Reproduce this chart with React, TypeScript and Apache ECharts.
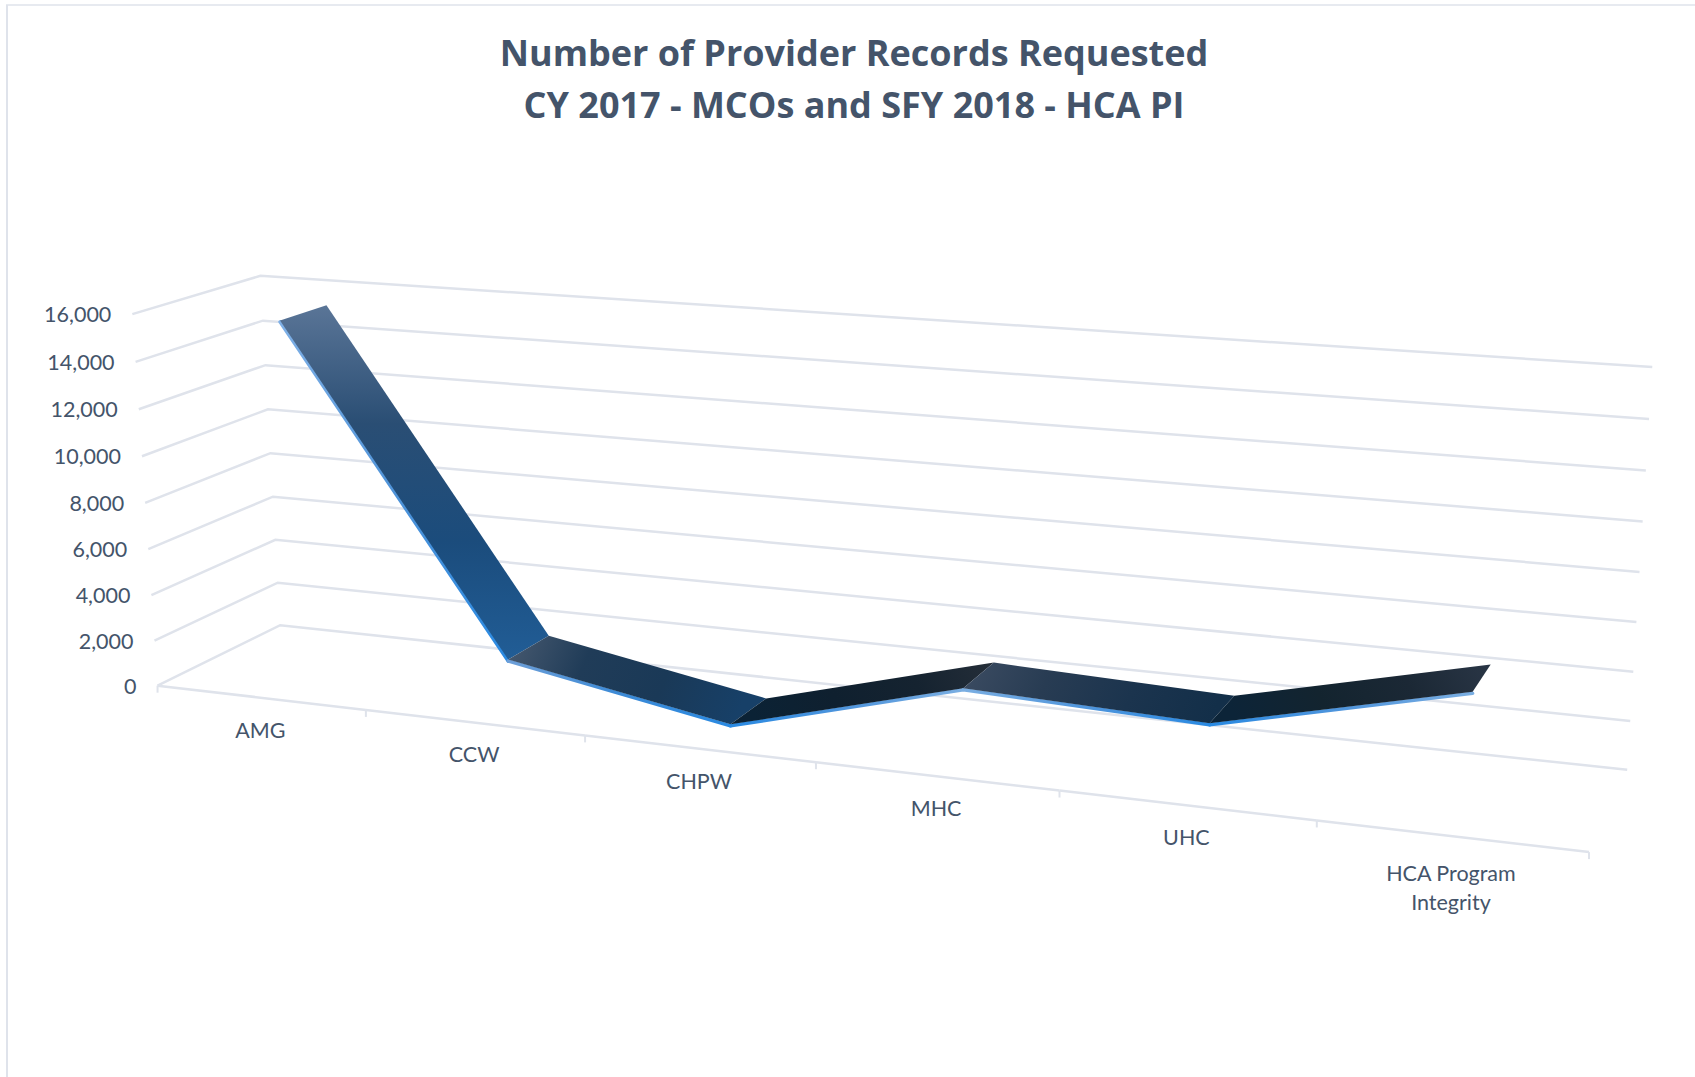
import React, { useEffect, useRef } from "react";
import * as echarts from "echarts";

const categories = ["AMG", "CCW", "CHPW", "MHC", "UHC", "HCA Program\nIntegrity"];
const recordsRequested = [15500, 1800, 60, 2650, 2300, 4620];
const yTicks = [0, 2000, 4000, 6000, 8000, 10000, 12000, 14000, 16000];
const titleLines = ["Number of Provider Records Requested", "CY 2017 - MCOs and SFY 2018 - HCA PI"];

const INK = "#44546a";
const GRID = "#dfe3eb";
const FONT = 'Lato, "Open Sans", sans-serif';
const TITLE_FONT = '"Open Sans", sans-serif';

// Camera: frame corners (u across, v up, z into the page) -> screen pixels, fitted by least squares.
const frame: number[][] = [
  [0, 0, 0, 158, 686], [1, 0, 0, 1589, 852], [0, 0, 1, 280, 625], [1, 0, 1, 1627, 770],
  [0, 1, 0, 132, 314], [0, 1, 1, 261, 276], [1, 1, 1, 1652, 367],
  [0.5, 0, 0, 816, 762], [0, 0.5, 0, 145, 503], [0, 0.5, 1, 270, 453], [1, 0.5, 1, 1640, 572],
];
function solveCamera(): number[] {
  const rows: number[][] = [];
  const rhs: number[] = [];
  for (const [u, v, z, px, py] of frame) {
    const x = px / 1000, y = py / 1000;
    rows.push([u, v, z, 1, 0, 0, 0, 0, -x * u, -x * v, -x * z]); rhs.push(x);
    rows.push([0, 0, 0, 0, u, v, z, 1, -y * u, -y * v, -y * z]); rhs.push(y);
  }
  const n = 11;
  const m: number[][] = [];
  for (let i = 0; i < n; i++) {
    const r: number[] = [];
    for (let j = 0; j < n; j++) r.push(rows.reduce((s, row) => s + row[i] * row[j], 0));
    r.push(rows.reduce((s, row, k) => s + row[i] * rhs[k], 0));
    m.push(r);
  }
  for (let c = 0; c < n; c++) {
    let p = c;
    for (let r = c + 1; r < n; r++) if (Math.abs(m[r][c]) > Math.abs(m[p][c])) p = r;
    [m[c], m[p]] = [m[p], m[c]];
    for (let r = 0; r < n; r++) {
      if (r === c) continue;
      const f = m[r][c] / m[c][c];
      for (let k = c; k <= n; k++) m[r][k] -= f * m[c][k];
    }
  }
  return m.map((r, i) => r[n] / r[i]);
}
const cam = solveCamera();
function project(u: number, v: number, z: number): number[] {
  const w = cam[8] * u + cam[9] * v + cam[10] * z + 1;
  return [
    (1000 * (cam[0] * u + cam[1] * v + cam[2] * z + cam[3])) / w,
    (1000 * (cam[4] * u + cam[5] * v + cam[6] * z + cam[7])) / w,
  ];
}

// axis coordinates -> unit cube via the hidden grid
function unit(api: any, params: any, catIndex: number, value: number): number[] {
  const p = api.coord([catIndex, value]);
  const r = params.coordSys;
  return [(p[0] - r.x) / r.width, 1 - (p[1] - r.y) / r.height];
}

const Z_FRONT = 0.32;
const Z_BACK = 0.7;

const lg = (x2: number, y2: number, stops: string[]) =>
  new echarts.graphic.LinearGradient(0, 0, x2, y2, stops.map((color, i) => ({ offset: i / (stops.length - 1), color })));

const faceShades = [
  [0, 1, ["#5a7597", "#2a4e74", "#1b4c7c", "#215d96"]],
  [1, 0.15, ["#485a70", "#203c58", "#1a3957", "#174068"]],
  [1, -0.1, ["#0b2235", "#0f202f", "#152330", "#252e39"]],
  [1, 0.1, ["#3c4c62", "#283c53", "#1b344e", "#132f49"]],
  [1, -0.1, ["#0c2438", "#13242f", "#1b2835", "#2a3646"]],
] as [number, number, string[]][];
const edgeShades = [
  [0, 1, ["#7fb0e6", "#4f93d8", "#2a8ae2"]],
  [1, 0, ["#6d9fd8", "#3c8ad6", "#2a8ae2"]],
  [1, 0, ["#2a8ae2", "#4f95dc", "#7aaee2"]],
  [1, 0, ["#7aaee2", "#4f95dc", "#2a8ae2"]],
  [1, 0, ["#2a8ae2", "#4f95dc", "#7aaee2"]],
] as [number, number, string[]][];

export default function App() {
  const ref = useRef<HTMLDivElement>(null);
  useEffect(() => {
    const chart = echarts.init(ref.current!, undefined, { renderer: "svg" });
    chart.setOption({
      animation: false,
      backgroundColor: "#ffffff",
      title: {
        text: titleLines.join("\n"),
        left: 849,
        top: 21,
        textAlign: "center",
        textStyle: { color: INK, fontFamily: TITLE_FONT, fontSize: 36, fontWeight: "bold", lineHeight: 52 },
      },
      graphic: [
        { type: "line", shape: { x1: 6, y1: 5, x2: 1695, y2: 5 }, style: { stroke: GRID, lineWidth: 1.5 } },
        { type: "line", shape: { x1: 7, y1: 5, x2: 7, y2: 1077 }, style: { stroke: GRID, lineWidth: 2 } },
      ],
      grid: { left: 100, right: 100, top: 100, bottom: 100 },
      xAxis: { type: "category", data: categories, show: false, boundaryGap: true },
      yAxis: { type: "value", min: 0, max: 16000, interval: 2000, show: false },
      series: [
        {
          type: "custom",
          name: "Gridlines",
          silent: true,
          clip: false,
          z: 1,
          data: yTicks.map((t) => [0, t]),
          encode: { x: 0, y: 1 },
          renderItem(params: any, api: any) {
            const tick = api.value(1);
            const [, v] = unit(api, params, 0, tick);
            const a = project(0, v, 0), b = project(0, v, 1), c = project(1, v, 1);
            return {
              type: "group",
              children: [
                { type: "polyline", shape: { points: [a, b, c] }, style: { stroke: GRID, lineWidth: 2.5, fill: "none" } },
                {
                  type: "text",
                  style: {
                    text: tick.toLocaleString("en-US"),
                    x: a[0] - 21,
                    y: a[1],
                    fill: INK,
                    font: `21.5px ${FONT}`,
                    textAlign: "right",
                    textVerticalAlign: "middle",
                  },
                },
              ],
            };
          },
        },
        {
          type: "custom",
          name: "Category axis",
          silent: true,
          clip: false,
          z: 1,
          data: categories.map((_, i) => [i, 0]),
          encode: { x: 0, y: 1 },
          renderItem(params: any, api: any) {
            const i = api.value(0);
            const [uc] = unit(api, params, i, 0);
            const step = 1 / categories.length;
            const left = project(uc - step / 2, 0, 0);
            const right = project(uc + step / 2, 0, 0);
            const mid = project(uc, 0, 0);
            const twoLines = categories[i].includes("\n");
            const children: any[] = [
              { type: "line", shape: { x1: left[0], y1: left[1], x2: right[0], y2: right[1] }, style: { stroke: GRID, lineWidth: 2.5 } },
              { type: "line", shape: { x1: right[0], y1: right[1], x2: right[0], y2: right[1] + 7 }, style: { stroke: GRID, lineWidth: 2 } },
              {
                type: "text",
                style: {
                  text: categories[i],
                  x: mid[0],
                  y: mid[1] + (twoLines ? 22 : 17.5),
                  fill: INK,
                  font: `21.5px ${FONT}`,
                  lineHeight: 29,
                  textAlign: "center",
                  textVerticalAlign: "top",
                },
              },
            ];
            if (i === 0) children.push({ type: "line", shape: { x1: left[0], y1: left[1], x2: left[0], y2: left[1] + 7 }, style: { stroke: GRID, lineWidth: 2 } });
            return { type: "group", children };
          },
        },
        {
          type: "custom",
          name: "Provider records requested",
          clip: false,
          z: 5,
          data: recordsRequested.slice(0, -1).map((v, i) => [i, v]),
          encode: { x: 0, y: 1 },
          renderItem(params: any, api: any) {
            const i = api.value(0);
            const [u0, v0] = unit(api, params, i, recordsRequested[i]);
            const [u1, v1] = unit(api, params, i + 1, recordsRequested[i + 1]);
            const f0 = project(u0, v0, Z_FRONT), f1 = project(u1, v1, Z_FRONT);
            const b0 = project(u0, v0, Z_BACK), b1 = project(u1, v1, Z_BACK);
            const face = faceShades[i], edge = edgeShades[i];
            return {
              type: "group",
              children: [
                {
                  type: "polyline",
                  shape: { points: [[f0[0], f0[1] + 1.5], [f1[0], f1[1] + 1.5]] },
                  style: { stroke: lg(edge[0], edge[1], edge[2]), lineWidth: 3.5, fill: "none", lineCap: "round" },
                },
                {
                  type: "polygon",
                  shape: { points: [f0, b0, b1, f1] },
                  style: { fill: lg(face[0], face[1], face[2]) },
                },
              ],
            };
          },
        },
      ],
    });
    return () => chart.dispose();
  }, []);
  return <div ref={ref} style={{ position: "fixed", left: 0, top: 0, width: 1695, height: 1077 }} />;
}
